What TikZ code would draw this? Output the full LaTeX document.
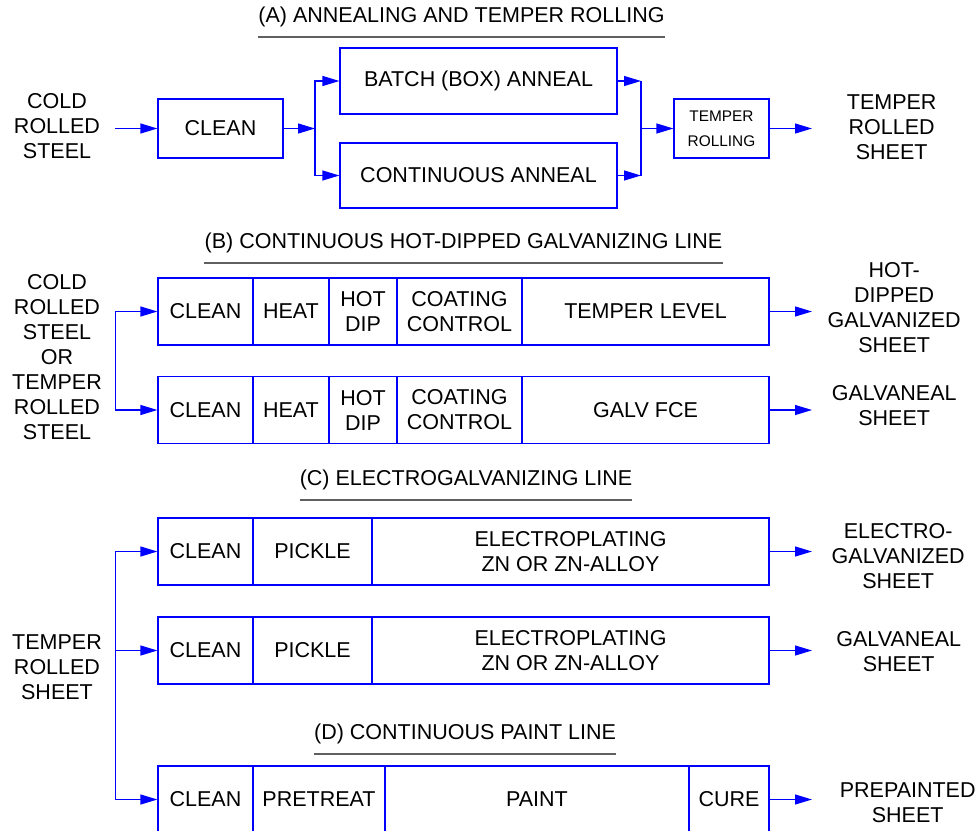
\documentclass[tikz,border=0pt]{standalone}
\usepackage{fontspec}
\setmainfont{Liberation Sans}
\usetikzlibrary{arrows.meta}
\definecolor{rulegray}{RGB}{96,96,96}

\begin{document}
\begin{tikzpicture}[x=1pt,y=-1pt,
    lbl/.style={align=center,inner sep=0pt,font=\fontsize{21.5}{25}\selectfont},
    small/.style={font=\fontsize{15.4}{25}\selectfont},
    stage/.style={lbl,draw=blue,line width=1.2pt,minimum height=67},
    flow/.style={blue,line width=1.2pt,-{Triangle[length=17pt,width=10pt]}},
    wire/.style={blue,line width=1.2pt},
    rule/.style={rulegray,line width=1.4pt}]
       \useasboundingbox (0,0) rectangle (979,830);
       % (A) annealing and temper rolling
       \node[lbl] (titleA) at (461.5,16.5) {(A) ANNEALING AND TEMPER ROLLING};
       \draw[rule] (titleA.west |- 0,37) -- (titleA.east |- 0,37);
       \node[lbl,minimum width=116] (coldA) at (57,126) {COLD\\ROLLED\\STEEL};
       \node[stage,minimum width=125,minimum height=59] (cleanA) at (220.5,128.5) {CLEAN};
       \node[stage,minimum width=277,minimum height=66] (batchA) at (478.5,81) {BATCH (BOX) ANNEAL};
       \node[stage,minimum width=277,minimum height=65] (contA) at (478.5,175.5) {CONTINUOUS ANNEAL};
       \node[stage,small,minimum width=95,minimum height=59] (temperA) at (721.5,128.5) {TEMPER\\ROLLING};
       \node[lbl,anchor=west,minimum width=159] (rolledA) at (812,127.5) {TEMPER\\ROLLED\\SHEET};
       \coordinate (splitA) at (315,128.5);
       \coordinate (mergeA) at (641,128.5);
       \draw[flow] (coldA.east |- cleanA.west) -- (cleanA.west);
       \draw[flow] (cleanA.east) -- (splitA);
       \draw[flow] (splitA) |- (batchA.west);
       \draw[flow] (splitA) |- (contA.west);
       \draw[flow] (batchA.east) -- (batchA.east -| mergeA);
       \draw[flow] (contA.east) -- (contA.east -| mergeA);
       \draw[wire] (batchA.east -| mergeA) -- (contA.east -| mergeA);
       \draw[flow] (mergeA) -- (temperA.west);
       \draw[flow] (temperA.east) -- (temperA.east -| rolledA.west);
       % (B) hot-dipped galvanizing
       \node[lbl] (titleB) at (463.5,243) {(B) CONTINUOUS HOT-DIPPED GALVANIZING LINE};
       \draw[rule] (titleB.west |- 0,263) -- (titleB.east |- 0,263);
       \foreach \row/\y/\last in {1/311.5/TEMPER LEVEL,2/410/GALV FCE} {
         \node[stage,minimum width=95] (b\row clean) at (205.5,\y) {CLEAN};
         \node[stage,minimum width=76] (b\row heat) at (291,\y) {HEAT};
         \node[stage,minimum width=68] (b\row dip) at (363,\y) {HOT\\DIP};
         \node[stage,minimum width=125] (b\row coat) at (459.5,\y) {COATING\\CONTROL};
         \node[stage,minimum width=247] (b\row last) at (645.5,\y) {\last};
       }
       \node[lbl,minimum width=116] (coldB) at (57,357) {COLD\\ROLLED\\STEEL\\OR\\TEMPER\\ROLLED\\STEEL};
       \node[lbl,anchor=west,minimum width=164] (hotB) at (812,308) {HOT-\\DIPPED\\GALVANIZED\\SHEET};
       \node[lbl,anchor=west,minimum width=164] (galvB) at (812,405.5) {GALVANEAL\\SHEET};
       \draw[flow] (coldB.east |- b2clean.west) |- (b1clean.west);
       \draw[flow] (coldB.east |- b2clean.west) -- (b2clean.west);
       \draw[flow] (b1last.east) -- (b1last.east -| hotB.west);
       \draw[flow] (b2last.east) -- (b2last.east -| galvB.west);
       % (C) electrogalvanizing
       \node[lbl] (titleC) at (466,479.5) {(C) ELECTROGALVANIZING LINE};
       \draw[rule] (titleC.west |- 0,500) -- (titleC.east |- 0,500);
       \foreach \row/\y in {1/551.5,2/650.5} {
         \node[stage,minimum width=95] (c\row clean) at (205.5,\y) {CLEAN};
         \node[stage,minimum width=119] (c\row pickle) at (312.5,\y) {PICKLE};
         \node[stage,minimum width=397] (c\row plate) at (570.5,\y) {ELECTROPLATING\\ZN OR ZN-ALLOY};
       }
       \node[lbl,anchor=west,minimum width=172] (electroC) at (812,556) {ELECTRO-\\GALVANIZED\\SHEET};
       \node[lbl,anchor=west,minimum width=173] (galvC) at (812,652) {GALVANEAL\\SHEET};
       \draw[flow] (c1plate.east) -- (c1plate.east -| electroC.west);
       \draw[flow] (c2plate.east) -- (c2plate.east -| galvC.west);
       % (D) paint line
       \node[lbl] (titleD) at (465,734) {(D) CONTINUOUS PAINT LINE};
       \draw[rule] (titleD.west |- 0,754) -- (titleD.east |- 0,754);
       \node[stage,minimum width=95] (dclean) at (205.5,799.5) {CLEAN};
       \node[stage,minimum width=132] (dpre) at (319,799.5) {PRETREAT};
       \node[stage,minimum width=304] (dpaint) at (537,799.5) {PAINT};
       \node[stage,minimum width=80] (dcure) at (729,799.5) {CURE};
       \node[lbl,anchor=west,minimum width=191] (paintD) at (812,802.5) {PREPAINTED\\SHEET};
       \draw[flow] (dcure.east) -- (dcure.east -| paintD.west);
       % temper rolled sheet feeds (C) and (D)
       \node[lbl,minimum width=116] (rolledC) at (57,667) {TEMPER\\ROLLED\\SHEET};
       \draw[flow] (rolledC.east |- dclean.west) |- (c1clean.west);
       \draw[flow] (rolledC.east |- c2clean.west) -- (c2clean.west);
       \draw[flow] (rolledC.east |- dclean.west) -- (dclean.west);
    \end{tikzpicture}
\end{document}
